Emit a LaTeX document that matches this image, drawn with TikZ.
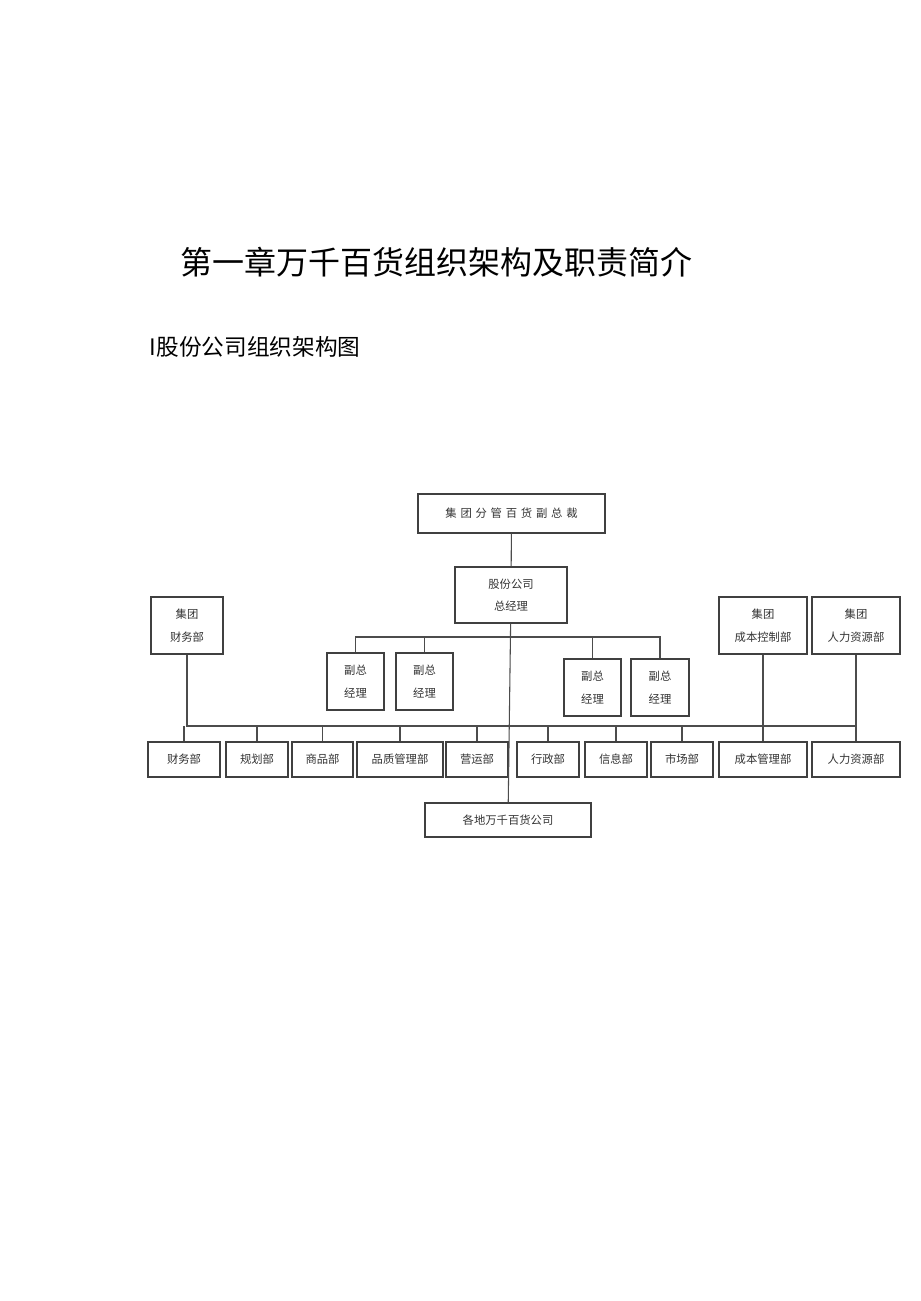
\documentclass[tikz,border=0pt]{standalone}
\usepackage{fontspec}
\setmainfont{Noto Sans CJK SC}
\tikzset{
	% ------- custom
	unit/.style={
		draw=black!75, line width=0.9pt, inner sep=0pt, font=\fontsize{8.5}{11}\selectfont,
		align=center, text=black!80,
	},
	link/.style={
		draw=black!70, line width=0.8pt,
	},
}
\newcommand{\unitbox}[6]{% name, x1, y1, x2, y2, text
	\node[unit, minimum width={(#4-#2)*0.75pt}, minimum height={(#5-#3)*0.75pt}]
		(#1) at ({(#2+#4)/2},{(#3+#5)/2}) {#6};
}
\begin{document}
\begin{tikzpicture}[x=0.75pt,y=-0.75pt]

% frame %{{{2

	\useasboundingbox[fill=white] (0,0) rectangle (920,1301);

% titles %{{{2

	\node[anchor=west, font=\fontsize{24}{28}\selectfont] (title) at (176,262) {第一章万千百货组织架构及职责简介};
	\node[anchor=west, font=\fontsize{17}{20}\selectfont] (subtitle) at (145,347) {I股份公司组织架构图};

% units %{{{2

	\unitbox{vp}{418}{494}{605}{533}{集\,\,团\,\,分\,\,管\,\,百\,\,货\,\,副\,\,总\,\,裁}
	\unitbox{gm}{455}{567}{567}{623}{股份公司\\[6pt]总经理}
	\unitbox{gfin}{151}{597}{223}{654}{集团\\[6pt]财务部}
	\unitbox{gcost}{719}{597}{807}{654}{集团\\[6pt]成本控制部}
	\unitbox{ghr}{812}{597}{900}{654}{集团\\[6pt]人力资源部}

	\unitbox{dA}{327}{653}{384}{710}{副总\\[6pt]经理}
	\unitbox{dB}{396}{653}{453}{710}{副总\\[6pt]经理}
	\unitbox{dC}{564}{659}{621}{716}{副总\\[6pt]经理}
	\unitbox{dD}{631}{659}{689}{716}{副总\\[6pt]经理}

	\unitbox{fin}{148}{742}{220}{777}{财务部}
	\unitbox{plan}{226}{742}{288}{777}{规划部}
	\unitbox{goods}{292}{742}{353}{777}{商品部}
	\unitbox{qual}{357}{742}{443}{777}{品质管理部}
	\unitbox{ops}{446}{742}{508}{777}{营运部}
	\unitbox{adm}{517}{742}{579}{777}{行政部}
	\unitbox{info}{585}{742}{647}{777}{信息部}
	\unitbox{mkt}{651}{742}{713}{777}{市场部}
	\unitbox{cost}{719}{742}{807}{777}{成本管理部}
	\unitbox{hr}{812}{742}{900}{777}{人力资源部}

	\unitbox{stores}{425}{803}{591}{837}{各地万千百货公司}

% buses %{{{2

	\coordinate (vbus) at (510,637);
	\coordinate (dbus) at (510,726);

% links %{{{2

	\draw[link] (vp) -- (gm);
	\draw[link] (gm) -- (stores);

	\draw[link] (dA.north) |- (vbus) -| (dD.north);
	\draw[link] (dB.north) -- (dB.north |- vbus);
	\draw[link] (dC.north) -- (dC.north |- vbus);

	\draw[link] (gfin.south) |- (dbus) -| (ghr.south);
	\draw[link] (ghr.south) -- (hr.north);
	\draw[link] (gcost.south) -- (cost.north);
	\foreach \u in {fin,plan,goods,qual,ops,adm,info,mkt}
		\draw[link] (\u.north) -- (\u.north |- dbus);

\end{tikzpicture}
\end{document}
